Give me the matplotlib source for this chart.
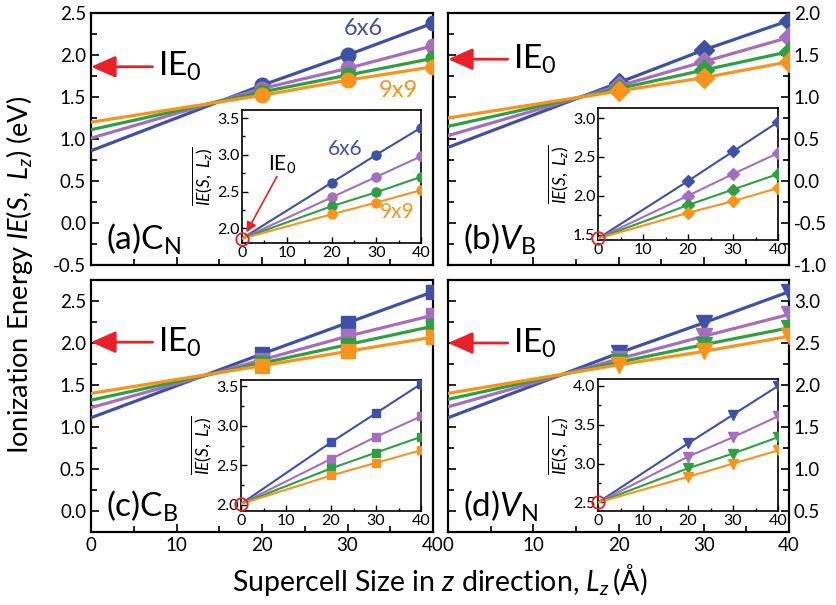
import matplotlib
matplotlib.use("Agg")
import matplotlib.pyplot as plt
from matplotlib.ticker import MultipleLocator

plt.rcParams['font.family'] = ['Lato', 'DejaVu Sans']
plt.rcParams['mathtext.fontset'] = 'custom'
plt.rcParams['mathtext.rm'] = 'Lato'
plt.rcParams['mathtext.it'] = 'Lato:italic'
plt.rcParams['mathtext.bf'] = 'Lato:bold'

# ---------------- data ----------------
lz = [0, 20, 30, 40]
sizes = ["6x6", "7x7", "8x8", "9x9"]
colors = ["#3F51A5", "#A56EBE", "#2EA043", "#F7941E"]

# IE0 per panel
ie0_a = 1.86
ie0_b = 1.45
ie0_c = 2.01
ie0_d = 2.50

# main panels: IE(S, Lz) at Lz = 0 (extrapolated), 20, 30, 40
main_a = [[0.86, 1.64, 2.00, 2.38],
          [1.01, 1.60, 1.84, 2.11],
          [1.11, 1.56, 1.76, 1.96],
          [1.20, 1.52, 1.70, 1.86]]
main_b = [[0.40, 1.17, 1.56, 1.91],
          [0.54, 1.13, 1.42, 1.71],
          [0.65, 1.10, 1.32, 1.54],
          [0.75, 1.07, 1.23, 1.42]]
main_c = [[1.11, 1.87, 2.24, 2.61],
          [1.23, 1.80, 2.08, 2.33],
          [1.32, 1.76, 1.98, 2.20],
          [1.40, 1.73, 1.90, 2.07]]
main_d = [[1.61, 2.38, 2.74, 3.11],
          [1.74, 2.31, 2.58, 2.84],
          [1.83, 2.27, 2.48, 2.68],
          [1.90, 2.24, 2.40, 2.58]]

# insets: averaged IE at Lz = 20, 30, 40 (Lz = 0 point is IE0)
inset_a = [[2.62, 3.00, 3.37],
           [2.42, 2.70, 2.98],
           [2.30, 2.49, 2.70],
           [2.19, 2.35, 2.52]]
inset_b = [[2.19, 2.57, 2.95],
           [2.00, 2.28, 2.55],
           [1.88, 2.08, 2.28],
           [1.78, 1.93, 2.10]]
inset_c = [[2.79, 3.16, 3.53],
           [2.58, 2.86, 3.12],
           [2.46, 2.66, 2.86],
           [2.37, 2.53, 2.69]]
inset_d = [[3.26, 3.63, 4.00],
           [3.09, 3.34, 3.61],
           [2.94, 3.13, 3.34],
           [2.83, 3.00, 3.17]]

panel_labels = ["(a)C$_{\\mathrm{N}}$", "(b)$V_{\\mathrm{B}}$",
                "(c)C$_{\\mathrm{B}}$", "(d)$V_{\\mathrm{N}}$"]
markers = ["o", "D", "s", "v"]

# ---------------- figure ----------------
W, H = 836, 605
fig = plt.figure(figsize=(W / 100, H / 100), dpi=100)


def fr(x0, y0, x1, y1):
    return [x0 / W, 1 - y1 / H, (x1 - x0) / W, (y1 - y0) / H]


main_pos = [fr(91, 13, 433, 265), fr(448, 13, 789, 265),
            fr(91, 280, 433, 532), fr(448, 280, 789, 532)]
inset_pos = [fr(242, 110, 421, 243), fr(598, 108, 778, 240),
             fr(241, 380, 421, 511), fr(598, 379, 778, 511)]
main_ylim = [(-0.5, 2.5), (-1.0, 2.0), (-0.25, 2.75), (0.25, 3.25)]
inset_ylim = [(1.80, 3.61), (1.43, 3.13), (1.92, 3.58), (2.39, 4.09)]
arrow_start = [7.2, 7.0, 7.2, 7.0]

mains = [main_a, main_b, main_c, main_d]
insets = [inset_a, inset_b, inset_c, inset_d]
ie0s = [ie0_a, ie0_b, ie0_c, ie0_d]

msize_main = {"o": 10.5, "D": 10, "s": 10, "v": 11}
msize_ins = {"o": 6.5, "D": 6, "s": 6, "v": 7}

for i in range(4):
    ax = fig.add_axes(main_pos[i])
    mk = markers[i]
    for vals, c in zip(mains[i], colors):
        ax.plot(lz, vals, color=c, lw=2.3, marker=mk, ms=msize_main[mk],
                markevery=[1, 2, 3], zorder=3)
    ax.set_xlim(0, 40)
    ax.set_ylim(*main_ylim[i])
    ax.xaxis.set_major_locator(MultipleLocator(10))
    ax.xaxis.set_minor_locator(MultipleLocator(5))
    ax.yaxis.set_major_locator(MultipleLocator(0.5))
    ax.yaxis.set_minor_locator(MultipleLocator(0.25))
    ax.yaxis.set_major_formatter(matplotlib.ticker.FormatStrFormatter('%.1f'))
    right = (i % 2 == 1)
    ax.tick_params(which='both', direction='in', width=1.2, labelsize=13.5,
                   top=False, bottom=True, left=True, right=right,
                   labelleft=not right, labelright=right,
                   labelbottom=(i >= 2))
    ax.tick_params(which='major', length=6)
    ax.tick_params(which='minor', length=4)
    for s in ax.spines.values():
        s.set_linewidth(1.6)
    # IE0 arrow
    ie0 = ie0s[i]
    ax.annotate("", xy=(0, ie0), xytext=(arrow_start[i], ie0),
                arrowprops=dict(arrowstyle='-|>,head_length=0.75,head_width=0.33',
                                color='#E8202A', lw=2.0, mutation_scale=20,
                                shrinkA=0, shrinkB=0),
                annotation_clip=False, zorder=5)
    ax.text(arrow_start[i] + 0.6, ie0, "IE$_0$", fontsize=24, va='center',
            ha='left')
    ax.text(0.045, 0.1, panel_labels[i], transform=ax.transAxes, fontsize=24,
            va='center', ha='left')
    if i == 0:
        ax.text(29.6, 2.32, "6x6", color=colors[0], fontsize=17, va='center')
        ax.text(33.7, 1.58, "9x9", color=colors[3], fontsize=17, va='center')

    # inset
    ins = fig.add_axes(inset_pos[i])
    for vals, c in zip(insets[i], colors):
        ins.plot(lz, [ie0] + vals, color=c, lw=1.5, marker=mk,
                 ms=msize_ins[mk], markevery=[1, 2, 3], zorder=3)
    ins.plot([0], [ie0], marker='o', ms=9, mfc='none', mec='#E8202A',
             mew=1.3, clip_on=False, zorder=6)
    ins.set_xlim(0, 40)
    ins.set_ylim(*inset_ylim[i])
    ins.xaxis.set_major_locator(MultipleLocator(10))
    ins.xaxis.set_minor_locator(MultipleLocator(5))
    ins.yaxis.set_major_locator(MultipleLocator(0.5))
    ins.yaxis.set_minor_locator(MultipleLocator(0.25))
    ins.yaxis.set_major_formatter(matplotlib.ticker.FormatStrFormatter('%.1f'))
    ins.tick_params(which='both', direction='in', width=1.0, labelsize=11.5,
                    pad=2, top=False, right=False)
    ins.tick_params(which='major', length=4)
    ins.tick_params(which='minor', length=2.5)
    for s in ins.spines.values():
        s.set_linewidth(1.2)
    ins.set_ylabel("$\\overline{IE(S,\\ L_z)}$", fontsize=12.5,
                   labelpad=1)
    if i == 0:
        ins.text(0.48, 0.71, "6x6", color=colors[0], fontsize=15,
                 transform=ins.transAxes, va='center')
        ins.text(0.77, 0.23, "9x9", color=colors[3], fontsize=15,
                 transform=ins.transAxes, va='center')
        ins.text(0.145, 0.59, "IE$_0$", fontsize=15, transform=ins.transAxes,
                 va='center')
        ins.annotate("", xy=(0.025, 0.08), xytext=(0.195, 0.50),
                     xycoords='axes fraction', textcoords='axes fraction',
                     arrowprops=dict(arrowstyle='-|>,head_length=0.5,head_width=0.25',
                                     color='#E8202A', lw=1.2, mutation_scale=12,
                                     shrinkA=0, shrinkB=0))

fig.text(440 / W, 1 - 580 / H,
         "Supercell Size in $z$ direction, $L_z\\,$(Å)", fontsize=20.5,
         ha='center', va='center')
fig.text(20 / W, 1 - 275 / H,
         "Ionization Energy $IE(S,\\ L_z)$ (eV)", fontsize=19.5,
         ha='center', va='center', rotation=90)

fig.savefig("out.png", dpi=100)
